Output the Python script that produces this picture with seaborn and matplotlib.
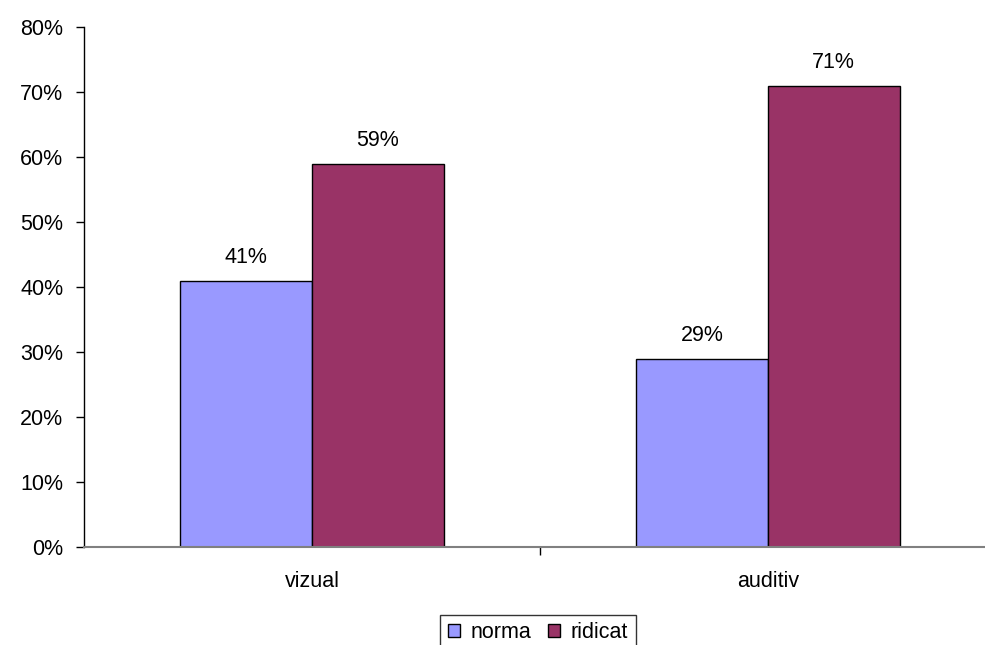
import pandas as pd
import matplotlib
matplotlib.use('Agg')
import matplotlib.pyplot as plt
import seaborn as sns
from matplotlib.ticker import PercentFormatter

categories = ['vizual', 'auditiv']
series = ['norma', 'ridicat']
norma = [41, 29]
ridicat = [59, 71]

df = pd.DataFrame({
    'cat': categories * 2,
    'serie': ['norma'] * 2 + ['ridicat'] * 2,
    'val': norma + ridicat,
})

sns.set_style('white')
plt.rcParams['font.family'] = ['Liberation Sans', 'DejaVu Sans']
plt.rcParams['text.color'] = 'black'
plt.rcParams['xtick.color'] = 'black'
plt.rcParams['ytick.color'] = 'black'

fs = 15.5

fig = plt.figure(figsize=(9.85, 6.45), dpi=100)
ax = fig.add_axes([0.0853, 0.152, 1.011 - 0.0853, 0.958 - 0.152])

sns.barplot(data=df, x='cat', y='val', hue='serie', order=categories,
            hue_order=series, palette=['#9999FF', '#993366'],
            width=0.578, gap=0, edgecolor='black', linewidth=1,
            saturation=1, ax=ax)

# value labels above the bars
for cont in ax.containers:
    ax.bar_label(cont, labels=[f'{v:.0f}%' for v in cont.datavalues],
                 padding=9, fontsize=fs)

ax.set_xlim(-0.5, 1.5)
ax.set_ylim(0, 80)
ax.set_yticks(range(0, 81, 10))
ax.yaxis.set_major_formatter(PercentFormatter(decimals=0))
ax.set_xticks([0.5], minor=True)
ax.tick_params(axis='x', which='major', bottom=False, pad=14, labelsize=fs)
ax.tick_params(axis='x', which='minor', bottom=True, length=6, width=1,
               color='black', direction='out')
ax.tick_params(axis='y', left=True, length=6, width=1, color='black',
               direction='out', labelsize=fs, pad=9)
ax.set_xlabel('')
ax.set_ylabel('')

for s in ['top', 'right']:
    ax.spines[s].set_visible(False)
ax.spines['left'].set_color('black')
ax.spines['left'].set_linewidth(1)
ax.spines['bottom'].set_color('#808080')
ax.spines['bottom'].set_linewidth(1.5)

leg = ax.legend(loc='center', bbox_to_anchor=(538 / 985, 1 - 633 / 645),
                bbox_transform=fig.transFigure, ncol=2, frameon=True,
                fontsize=fs, handlelength=0.55, handleheight=0.55,
                handletextpad=0.5, columnspacing=0.8, borderpad=0.35,
                borderaxespad=0, fancybox=False, edgecolor='black')
leg.get_frame().set_linewidth(1)

fig.savefig('out.png', dpi=100)
